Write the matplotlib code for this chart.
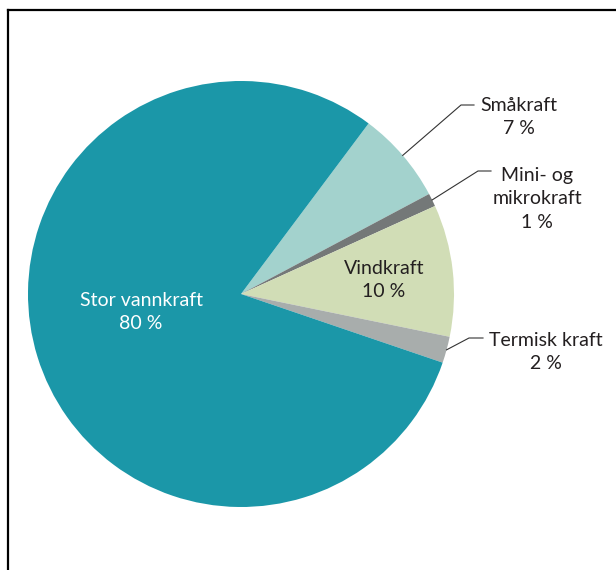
import numpy as np
import matplotlib
matplotlib.use("Agg")
import matplotlib.pyplot as plt

# shares of power production
labels = ["Småkraft", "Mini- og\nmikrokraft", "Vindkraft", "Termisk kraft", "Stor vannkraft"]
values = [7, 1, 10, 2, 80]
pct_text = ["7 %", "1 %", "10 %", "2 %", "80 %"]
colors = ["#a3d2cd", "#747878", "#d1ddb6", "#a8adac", "#1b97a8"]

plt.rcParams['font.family'] = ['Lato', 'DejaVu Sans']

W, H = 616, 570
fig = plt.figure(figsize=(W / 100, H / 100), dpi=100)
ax = fig.add_axes([0, 0, 1, 1])

cx, cy, r = 241, 294, 213
# axes use y-down pixel coords, so angles are mirrored
wedges, _ = ax.pie(values, colors=colors, startangle=-53.2, counterclock=True,
                   center=(cx, cy), radius=r, frame=True,
                   wedgeprops=dict(linewidth=0))
ax.set_xlim(0, W)
ax.set_ylim(H, 0)
ax.set_aspect('equal')
ax.axis('off')

mids = [-(w.theta1 + w.theta2) / 2 for w in wedges]

# label placement (text centre) and leader elbow/end points
txt_pos = {
    0: (519, 117),
    1: (537, 199),
    2: (384, 280),
    3: (546, 352),
    4: (141, 312),
}
leaders = {
    0: [(461, 105), (474, 105)],
    1: [(478, 171), (491, 171)],
    3: [(469, 338), (483, 338)],
}

for i in range(len(values)):
    x, y = txt_pos[i]
    col = "white" if i == 4 else "#231f20"
    ax.text(x, y, labels[i] + "\n" + pct_text[i], ha="center", va="center",
            fontsize=14, color=col, linespacing=1.45)
    if i in leaders:
        a = np.deg2rad(mids[i])
        sx = cx + r * np.cos(a)
        sy = cy - r * np.sin(a)
        pts = [(sx, sy)] + leaders[i]
        ax.plot([p[0] for p in pts], [p[1] for p in pts], color="#333333", lw=0.8)

# frame (top and left edges)
ax.plot([8, W], [10, 10], color="black", lw=1.6, clip_on=False)
ax.plot([8, 8], [10, H], color="black", lw=1.6, clip_on=False)

fig.savefig("out.png", dpi=100)
